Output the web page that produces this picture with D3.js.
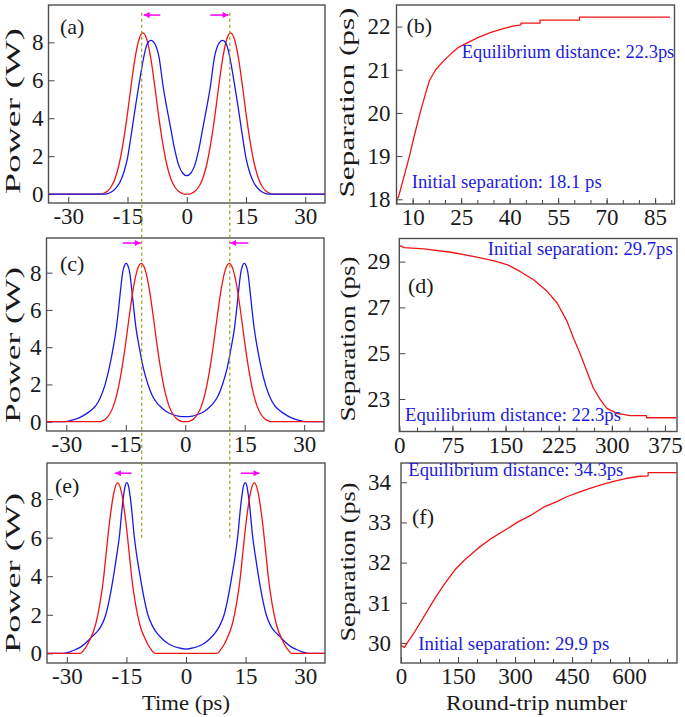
<!DOCTYPE html>
<html><head><meta charset="utf-8">
<script src="https://cdn.jsdelivr.net/npm/d3@7"></script>
<style>
body{margin:0;background:#fff}svg{display:block}
svg text{font-family:'Liberation Serif','Times New Roman',Times,serif;}
</style>
</head><body>
<svg id="chart" width="685" height="717"></svg>
<script>
// ---------------- data ----------------
const timeTicks = [-30, -15, 0, 15, 30];
const powerTicks = [0, 2, 4, 6, 8];
const tripTicksB = [10, 25, 40, 55, 70, 85];
const tripMinorB = [5, 10, 15, 20, 25, 30, 35, 40, 45, 50, 55, 60, 65, 70, 75, 80, 85, 90];
const sepTicksB = [18, 19, 20, 21, 22];
const tripTicksD = [0, 75, 150, 225, 300, 375];
const tripMinorD = [0, 25, 50, 75, 100, 125, 150, 175, 200, 225, 250, 275, 300, 325, 350, 375];
const sepTicksD = [23, 25, 27, 29];
const tripTicksF = [0, 150, 300, 450, 600];
const tripMinorF = [0, 50, 100, 150, 200, 250, 300, 350, 400, 450, 500, 550, 600, 650, 700];
const sepTicksF = [30, 31, 32, 33, 34];

// (a),(c) red pulse pair [time ps, power W]
const redPulseAC = [[-35,0],[-21.5,0],[-21.1,0.03],[-20.1,0.15],[-19.1,0.4],[-18.1,0.85],[-17.1,1.6],[-16.1,2.7],[-15.1,4.1],[-14.1,5.7],[-13.1,7.15],[-12.1,8.15],[-11.1,8.5],[-10.1,8.15],[-9.1,7.15],[-8.1,5.7],[-7.1,4.1],[-6.1,2.7],[-5.1,1.6],[-4.1,0.85],[-3.1,0.4],[-2.1,0.15],[-1.1,0.03],[-0.7,0],[0,0],[0.7,0],[1.1,0.03],[2.1,0.15],[3.1,0.4],[4.1,0.85],[5.1,1.6],[6.1,2.7],[7.1,4.1],[8.1,5.7],[9.1,7.15],[10.1,8.15],[11.1,8.5],[12.1,8.15],[13.1,7.15],[14.1,5.7],[15.1,4.1],[16.1,2.7],[17.1,1.6],[18.1,0.85],[19.1,0.4],[20.1,0.15],[21.1,0.03],[21.5,0],[35,0]];
// (a) blue pulse pair
const bluePulseA = [[-35,0],[-21,0],[-20,0.03],[-19,0.12],[-18,0.3],[-17,0.6],[-16,1.1],[-15,1.9],[-14,3.2],[-13,4.6],[-12,5.9],[-11,7.1],[-10.3,7.75],[-9.7,8.02],[-9.1,8.1],[-8.5,8.05],[-8,7.9],[-7,7.2],[-6,5.7],[-5,4.5],[-4,3.4],[-3,2.3],[-2,1.5],[-1,1.1],[0,0.97],[1,1.1],[2,1.5],[3,2.3],[4,3.4],[5,4.5],[6,5.7],[7,7.2],[8,7.9],[8.5,8.05],[9.1,8.1],[9.7,8.02],[10.3,7.75],[11,7.1],[12,5.9],[13,4.6],[14,3.2],[15,1.9],[16,1.1],[17,0.6],[18,0.3],[19,0.12],[20,0.03],[21,0],[35,0]];
// (c) blue pulse pair
const bluePulseC = [[-35,0],[-30.3,0],[-28.6,0.08],[-26.8,0.2],[-25.3,0.38],[-23.8,0.6],[-22.6,0.85],[-21.4,1.3],[-20.2,2.0],[-19.1,2.95],[-18.15,4.0],[-17.4,5.0],[-16.85,6.0],[-16.3,7.1],[-15.8,8.0],[-15.3,8.4],[-14.9,8.5],[-14.5,8.4],[-14.0,8.0],[-13.5,7.1],[-12.95,6.0],[-12.4,5.0],[-11.6,4.0],[-10.6,2.9],[-9.4,2.0],[-8.2,1.35],[-7.1,1.0],[-6.1,0.78],[-4.8,0.55],[-3.3,0.4],[-1.8,0.3],[0,0.27],[1.8,0.3],[3.3,0.4],[4.8,0.55],[6.1,0.78],[7.1,1.0],[8.2,1.35],[9.4,2.0],[10.6,2.9],[11.6,4.0],[12.4,5.0],[12.95,6.0],[13.5,7.1],[14.0,8.0],[14.5,8.4],[14.9,8.5],[15.3,8.4],[15.8,8.0],[16.3,7.1],[16.85,6.0],[17.4,5.0],[18.15,4.0],[19.1,2.95],[20.2,2.0],[21.4,1.3],[22.6,0.85],[23.8,0.6],[25.3,0.38],[26.8,0.2],[28.6,0.08],[30.3,0],[35,0]];
// (e) red pulse pair
const redPulseE = [[-35,0],[-26.6,0],[-25.7,0.18],[-24.7,0.5],[-23.8,0.9],[-23.2,1.2],[-22.2,2.0],[-21.2,3.2],[-20.7,4.0],[-20.2,5.0],[-19.2,6.9],[-18.2,8.3],[-17.2,8.85],[-16.2,8.3],[-15.2,6.9],[-14.2,5.0],[-13.7,4.0],[-13.2,3.2],[-12.2,2.0],[-11.2,1.2],[-10.6,0.9],[-9.7,0.5],[-8.7,0.18],[-7.8,0],[7.8,0],[8.7,0.18],[9.7,0.5],[10.6,0.9],[11.2,1.2],[12.2,2.0],[13.2,3.2],[13.7,4.0],[14.2,5.0],[15.2,6.9],[16.2,8.3],[17.2,8.85],[18.2,8.3],[19.2,6.9],[20.2,5.0],[20.7,4.0],[21.2,3.2],[22.2,2.0],[23.2,1.2],[23.8,0.9],[24.7,0.5],[25.7,0.18],[26.6,0],[35,0]];
// (e) blue pulse pair
const bluePulseE = [[-35,0],[-30.7,0],[-29.2,0.08],[-27.8,0.2],[-26.4,0.35],[-24.9,0.6],[-23.6,0.88],[-22.5,1.1],[-21.4,1.4],[-20.2,2.0],[-19.2,2.9],[-18.25,4.0],[-17.5,5.0],[-16.7,6.2],[-16.2,7.3],[-15.7,8.2],[-15.3,8.7],[-14.9,8.85],[-14.5,8.7],[-14.1,8.2],[-13.6,7.3],[-13.1,6.2],[-12.35,5.0],[-11.55,4.0],[-10.6,2.9],[-9.6,2.0],[-8.4,1.4],[-7.3,1.05],[-6.2,0.8],[-4.8,0.55],[-3.3,0.38],[-1.8,0.28],[0,0.22],[1.8,0.28],[3.3,0.38],[4.8,0.55],[6.2,0.8],[7.3,1.05],[8.4,1.4],[9.6,2.0],[10.6,2.9],[11.55,4.0],[12.35,5.0],[13.1,6.2],[13.6,7.3],[14.1,8.2],[14.5,8.7],[14.9,8.85],[15.3,8.7],[15.7,8.2],[16.2,7.3],[16.7,6.2],[17.5,5.0],[18.25,4.0],[19.2,2.9],[20.2,2.0],[21.4,1.4],[22.5,1.1],[23.6,0.88],[24.9,0.6],[26.4,0.35],[27.8,0.2],[29.2,0.08],[30.7,0],[35,0]];

// separation vs round-trip number
const sepB = [[5.1,18.0],[5.6,18.05],[6.5,18.3],[7.6,18.6],[9.0,19.0],[10.6,19.5],[12.3,20.0],[13.8,20.4],[15.2,20.75],[17.1,21.0],[19.5,21.2],[22,21.38],[24.2,21.52],[27,21.63],[30,21.74],[34,21.86],[38,21.95],[41,22.01],[43.5,22.04],[43.5,22.08],[49.4,22.08],[49.4,22.15],[61.6,22.15],[61.6,22.22],[89.6,22.22]];
const sepD = [[0.5,29.70],[7,29.61],[35,29.56],[73,29.41],[106,29.22],[134,29.03],[153,28.86],[171,28.56],[190,28.2],[209,27.69],[223,27.18],[237,26.38],[246,25.65],[256,24.92],[265,24.19],[274,23.47],[284,22.96],[293,22.59],[307,22.37],[326,22.27],[349,22.27],[349,22.18],[391,22.18]];
const sepF = [[0,29.94],[9,29.89],[19,30.04],[37,30.29],[63,30.70],[90,31.12],[116,31.49],[142,31.82],[168,32.07],[203,32.36],[239,32.61],[274,32.81],[309,33.02],[344,33.19],[375,33.38],[410,33.52],[436,33.64],[467,33.75],[497,33.85],[528,33.94],[559,34.02],[594,34.10],[629,34.15],[650,34.16],[650,34.24],[725,34.24]];

// shift arrows [fromTime, toTime, power]
const arrowsA = [[-6.7,-10.9,9.44],[5.95,10.6,9.44]];
const arrowsC = [[-15.8,-11.2,9.59],[15.9,11.3,9.59]];
const arrowsE = [[-13.7,-17.9,9.34],[13.8,18.5,9.34]];
// reference (equilibrium) pulse positions, dashed guides
const guideTimes = [-11.4, 10.9];

// ---------------- drawing ----------------
const svg = d3.select('#chart');
svg.append('rect').attr('width',685).attr('height',717).attr('fill','#fff');
const FONT = "'Liberation Serif','Times New Roman',Times,serif";
const RED = '#f01414', BLUE = '#1a1ae6', TXTBLUE = '#1c1cdc', MAG = '#ff00ff', INK = '#1a1a1a';
const plainFmt = d => String(d);

const defs = svg.append('defs');
defs.append('marker').attr('id','ah').attr('viewBox','0 0 10 10')
  .attr('refX',10).attr('refY',5).attr('markerWidth',7).attr('markerHeight',6)
  .attr('markerUnits','userSpaceOnUse').attr('orient','auto')
  .append('path').attr('d','M0,0L10,5L0,10Z').attr('fill',MAG);

function panel(cfg){
  const g = svg.append('g');
  const x = d3.scaleLinear().domain(cfg.xDomain).range([cfg.left, cfg.right]);
  const y = d3.scaleLinear().domain(cfg.yDomain).range([cfg.bottom, cfg.top]);
  const cid = 'clip' + cfg.id;
  defs.append('clipPath').attr('id',cid).append('rect')
    .attr('x',cfg.left).attr('y',cfg.top).attr('width',cfg.right-cfg.left).attr('height',cfg.bottom-cfg.top);

  if (cfg.xMinor){
    g.append('g').attr('transform',`translate(0,${cfg.bottom})`)
      .call(d3.axisBottom(x).tickValues(cfg.xMinor).tickSizeInner(-4).tickSizeOuter(0).tickFormat(''))
      .call(a=>a.select('.domain').remove())
      .call(a=>a.selectAll('line').attr('stroke','#444'));
  }
  const xa = g.append('g').attr('transform',`translate(0,${cfg.bottom})`)
    .call(d3.axisBottom(x).tickValues(cfg.xTicks).tickFormat(plainFmt).tickSizeInner(-6).tickSizeOuter(0).tickPadding(5));
  const ya = g.append('g').attr('transform',`translate(${cfg.left},0)`)
    .call(d3.axisLeft(y).tickValues(cfg.yTicks).tickFormat(plainFmt).tickSizeInner(-6).tickSizeOuter(0).tickPadding(cfg.yPad));
  [xa, ya].forEach(a=>{
    a.attr('font-family',FONT).attr('font-size',23);
    a.select('.domain').remove();
    a.selectAll('line').attr('stroke','#444');
    a.selectAll('text').attr('font-family',FONT).attr('font-size',23).attr('fill',INK);
  });

  const cg = g.append('g').attr('clip-path',`url(#${cid})`);
  cfg.series.forEach(s=>{
    const line = d3.line().x(d=>x(d[0])).y(d=>y(d[1])).curve(s.curve || d3.curveLinear);
    cg.append('path').datum(s.data).attr('d',line).attr('fill','none')
      .attr('stroke',s.color).attr('stroke-width',1.3).attr('stroke-linejoin','round');
  });

  g.append('rect').attr('x',cfg.left).attr('y',cfg.top)
    .attr('width',cfg.right-cfg.left).attr('height',cfg.bottom-cfg.top)
    .attr('fill','none').attr('stroke','#505050').attr('stroke-width',1.4);

  if (cfg.arrows){
    g.selectAll('.arr').data(cfg.arrows).enter().append('line')
      .attr('x1',d=>x(d[0])).attr('x2',d=>x(d[1])).attr('y1',d=>y(d[2])).attr('y2',d=>y(d[2]))
      .attr('stroke',MAG).attr('stroke-width',1.5).attr('marker-end','url(#ah)');
  }
  g.append('text').attr('x',cfg.lx).attr('y',cfg.ly).text(cfg.letter)
    .attr('font-family',FONT).attr('font-size',22).attr('fill',INK);
  g.append('text').attr('transform',`translate(${cfg.tx},${cfg.ty}) rotate(-90)`)
    .attr('text-anchor','middle').attr('font-family',FONT).attr('font-size',20).attr('fill',INK)
    .attr('textLength',cfg.tlen).attr('lengthAdjust','spacingAndGlyphs').text(cfg.ytitle);
  (cfg.notes||[]).forEach(n=>{
    g.append('text').attr('x',n[1]).attr('y',n[2]).text(n[0])
      .attr('font-family',FONT).attr('font-size',18).attr('fill',TXTBLUE)
      .attr('textLength',n[3]).attr('lengthAdjust','spacingAndGlyphs');
  });
  return {x,y};
}

const mono = d3.curveMonotoneX;
const pa = panel({id:'a', left:48.5, right:325, top:5, bottom:203, xDomain:[-35,35], yDomain:[-0.47,9.97],
  xTicks:timeTicks, yTicks:powerTicks, yPad:5, letter:'(a)', lx:60, ly:34,
  ytitle:'Power (W)', tx:20, ty:111, tlen:166, arrows:arrowsA,
  series:[{data:redPulseAC,color:RED,curve:mono},{data:bluePulseA,color:BLUE,curve:mono}]});
const pc = panel({id:'c', left:46.5, right:324, top:238, bottom:431, xDomain:[-35,35], yDomain:[-0.5,9.86],
  xTicks:timeTicks, yTicks:powerTicks, yPad:5, letter:'(c)', lx:60, ly:271,
  ytitle:'Power (W)', tx:19.5, ty:345, tlen:156, arrows:arrowsC,
  series:[{data:bluePulseC,color:BLUE,curve:mono},{data:redPulseAC,color:RED,curve:mono}]});
const pe = panel({id:'e', left:47, right:325, top:463, bottom:663, xDomain:[-35,35], yDomain:[-0.5,9.87],
  xTicks:timeTicks, yTicks:powerTicks, yPad:5, letter:'(e)', lx:55, ly:493,
  ytitle:'Power (W)', tx:19.5, ty:573, tlen:160, arrows:arrowsE,
  series:[{data:bluePulseE,color:BLUE,curve:mono},{data:redPulseE,color:RED,curve:mono}]});

panel({id:'b', left:396.5, right:674.5, top:5, bottom:204, xDomain:[5,91], yDomain:[17.89,22.5],
  xTicks:tripTicksB, xMinor:tripMinorB, yTicks:sepTicksB, yPad:6, letter:'(b)', lx:406.5, ly:33,
  ytitle:'Separation (ps)', tx:354, ty:102.5, tlen:190,
  notes:[['Equilibrium distance: 22.3ps',461.7,57.5,212.6],['Initial separation: 18.1 ps',411.7,188,190]],
  series:[{data:sepB,color:RED}]});
panel({id:'d', left:399.3, right:677, top:238.5, bottom:431.5, xDomain:[0,392], yDomain:[21.58,30.01],
  xTicks:tripTicksD, xMinor:tripMinorD, yTicks:sepTicksD, yPad:9, letter:'(d)', lx:408, ly:293,
  ytitle:'Separation (ps)', tx:355, ty:339, tlen:165,
  notes:[['Initial separation: 29.7ps',487.7,255,185],['Equilibrium distance: 22.3ps',405,421,216]],
  series:[{data:sepD,color:RED}]});
panel({id:'f', left:401, right:677, top:463, bottom:663, xDomain:[0,726], yDomain:[29.5,34.48],
  xTicks:tripTicksF, xMinor:tripMinorF, yTicks:sepTicksF, yPad:10, letter:'(f)', lx:412, ly:524,
  ytitle:'Separation (ps)', tx:355, ty:562, tlen:159,
  notes:[['Equilibrium distance: 34.3ps',408.3,476,215],['Initial separation: 29.9 ps',418.3,650,191]],
  series:[{data:sepF,color:RED}]});

// dashed guides across left column
svg.selectAll('.guide').data(guideTimes).enter().append('line')
  .attr('x1',d=>pa.x(d)).attr('x2',d=>pa.x(d))
  .attr('y1',pa.y(9.56)).attr('y2',pe.y(5.88))
  .attr('stroke','#9a9a10').attr('stroke-width',1.2).attr('stroke-dasharray','3,3');

// x titles
svg.append('text').attr('x',186).attr('y',710).attr('text-anchor','middle')
  .attr('font-family',FONT).attr('font-size',22).attr('fill',INK)
  .attr('textLength',88).attr('lengthAdjust','spacingAndGlyphs').text('Time (ps)');
svg.append('text').attr('x',536.5).attr('y',710).attr('text-anchor','middle')
  .attr('font-family',FONT).attr('font-size',22).attr('fill',INK)
  .attr('textLength',181).attr('lengthAdjust','spacingAndGlyphs').text('Round-trip number');
</script>
</body></html>
